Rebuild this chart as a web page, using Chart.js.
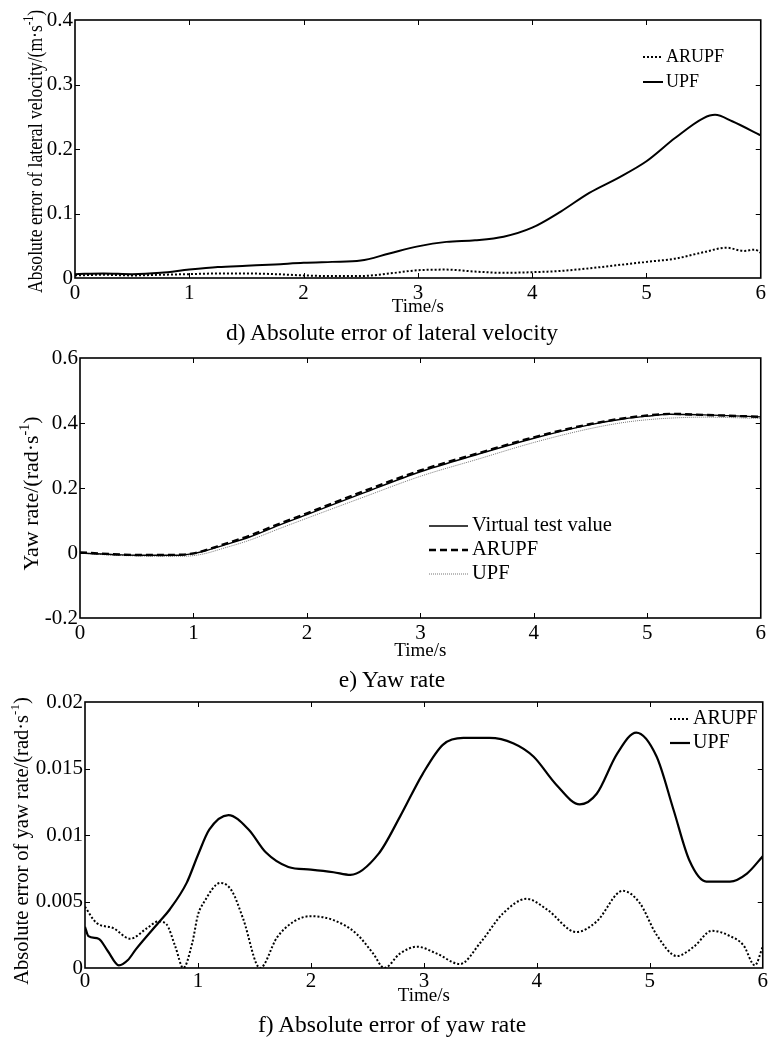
<!DOCTYPE html>
<html>
<head>
<meta charset="utf-8">
<script src="https://cdn.jsdelivr.net/npm/chart.js@4.4.0/dist/chart.umd.min.js"></script>
<style>
  body { margin: 0; background: #fff; overflow: hidden; }
  #page { position: relative; width: 769px; height: 1037px; }
  canvas { position: absolute; left: 0; }
  .cap { position: absolute; left: 15px; width: 754px; text-align: center; font-family: 'Liberation Serif', serif; font-size: 23.5px; line-height: 1; color: #000; }
</style>
</head>
<body>
<div id="page">
  <canvas id="latChart" width="769" height="320" style="top:0"></canvas>
  <div class="cap" style="top:321px">d) Absolute error of lateral velocity</div>
  <canvas id="yawChart" width="769" height="335" style="top:330px"></canvas>
  <div class="cap" style="top:668px">e) Yaw rate</div>
  <canvas id="errChart" width="769" height="340" style="top:670px"></canvas>
  <div class="cap" style="top:1013px">f) Absolute error of yaw rate</div>
</div>
<script>
'use strict';

// d) absolute error of lateral velocity (m/s)
const latUpfTime = [0, 0.25, 0.5, 0.75, 1, 1.25, 1.5, 1.75, 2, 2.25, 2.5, 2.75, 3, 3.25, 3.5, 3.75, 4, 4.25, 4.5, 4.75, 5, 5.25, 5.5, 5.6, 5.75, 6];
const latUpf = [0.006, 0.007, 0.006, 0.008, 0.013, 0.017, 0.019, 0.021, 0.0235, 0.025, 0.027, 0.038, 0.049, 0.056, 0.0585, 0.064, 0.078, 0.103, 0.132, 0.155, 0.181, 0.217, 0.248, 0.253, 0.243, 0.221];
const latArupfTime = [0, 0.25, 0.5, 0.75, 1, 1.25, 1.5, 1.75, 2, 2.25, 2.5, 2.75, 3, 3.25, 3.5, 3.75, 4, 4.25, 4.5, 4.75, 5, 5.25, 5.5, 5.7, 5.85, 5.95, 6];
const latArupf = [0.004, 0.005, 0.004, 0.005, 0.006, 0.007, 0.007, 0.006, 0.004, 0.003, 0.003, 0.007, 0.012, 0.013, 0.010, 0.008, 0.009, 0.011, 0.015, 0.020, 0.025, 0.030, 0.040, 0.047, 0.042, 0.044, 0.039];

// e) yaw rate (rad/s)
const yawTime = [0, 0.25, 0.5, 0.75, 0.9, 1, 1.1, 1.25, 1.5, 1.75, 2, 2.5, 3, 3.5, 4, 4.5, 4.8, 5, 5.2, 5.5, 6];
const yawVirtual = [0, -0.004, -0.007, -0.007, -0.006, -0.002, 0.006, 0.022, 0.05, 0.085, 0.118, 0.185, 0.25, 0.303, 0.353, 0.395, 0.413, 0.421, 0.427, 0.425, 0.419];
const yawArupf = [0.002, -0.003, -0.006, -0.006, -0.005, -0.001, 0.008, 0.025, 0.054, 0.089, 0.122, 0.19, 0.254, 0.306, 0.356, 0.397, 0.415, 0.423, 0.428, 0.425, 0.419];
const yawUpf = [0, -0.006, -0.009, -0.01, -0.01, -0.008, -0.002, 0.013, 0.04, 0.074, 0.107, 0.172, 0.236, 0.288, 0.34, 0.383, 0.402, 0.41, 0.415, 0.418, 0.414];

// f) absolute error of yaw rate (rad/s)
const errUpfTime = [0, 0.03, 0.12, 0.2, 0.3, 0.38, 0.45, 0.65, 0.75, 0.9, 1, 1.1, 1.27, 1.45, 1.6, 1.8, 2, 2.2, 2.35, 2.6, 2.79, 2.99, 3.17, 3.35, 3.58, 3.79, 3.97, 4.17, 4.38, 4.53, 4.71, 4.88, 5.06, 5.21, 5.35, 5.5, 5.71, 5.86, 6];
const errUpf = [0.0031, 0.0024, 0.0022, 0.0013, 0.0002, 0.0006, 0.0014, 0.0034, 0.0044, 0.0064, 0.0085, 0.0104, 0.0115, 0.0104, 0.0087, 0.0076, 0.0074, 0.0072, 0.007, 0.0086, 0.0114, 0.0146, 0.0168, 0.0173, 0.0173, 0.0169, 0.0159, 0.0138, 0.0123, 0.0131, 0.0161, 0.0177, 0.0159, 0.0119, 0.0081, 0.0065, 0.0065, 0.0071, 0.0084];
const errArupfTime = [0, 0.1, 0.25, 0.4, 0.55, 0.65, 0.72, 0.8, 0.87, 0.95, 1, 1.05, 1.2, 1.3, 1.4, 1.55, 1.7, 1.85, 2, 2.2, 2.4, 2.55, 2.65, 2.79, 2.94, 3.11, 3.32, 3.5, 3.7, 3.91, 4.09, 4.35, 4.53, 4.76, 4.91, 5.06, 5.24, 5.39, 5.55, 5.71, 5.83, 5.93, 6];
const errArupf = [0.0046, 0.0034, 0.003, 0.0022, 0.003, 0.0035, 0.0033, 0.0016, 0, 0.0019, 0.004, 0.0049, 0.0064, 0.0058, 0.0037, 0, 0.0023, 0.0035, 0.0039, 0.0036, 0.0026, 0.0011, 0, 0.0011, 0.0016, 0.0011, 0.0003, 0.0019, 0.0041, 0.0052, 0.0044, 0.0027, 0.0035, 0.0058, 0.0049, 0.0025, 0.0009, 0.0016, 0.0028, 0.0024, 0.0017, 0.0002, 0.0016];

const SERIF = "'Liberation Serif', 'Times New Roman', serif";
Chart.defaults.font.family = SERIF;
Chart.defaults.color = '#000';

function pts (t, v) {
    return t.map((x, i) => ({ x: x, y: v[i] }));
}

// box round the plot plus inward tick marks on all four sides
const frame = {
    id: 'frame',
    afterDatasetsDraw (chart) {
        const { ctx, chartArea: a, scales: { x, y } } = chart;
        ctx.save();
        ctx.strokeStyle = '#000';
        ctx.lineWidth = 1;
        ctx.beginPath();
        x.ticks.forEach(t => {
            if (t.value <= x.min || t.value >= x.max) return;
            const px = Math.round(x.getPixelForValue(t.value)) + 0.5;
            ctx.moveTo(px, a.bottom); ctx.lineTo(px, a.bottom - 5);
            ctx.moveTo(px, a.top); ctx.lineTo(px, a.top + 5);
        });
        y.ticks.forEach(t => {
            if (t.value <= y.min || t.value >= y.max) return;
            const py = Math.round(y.getPixelForValue(t.value)) + 0.5;
            ctx.moveTo(a.left, py); ctx.lineTo(a.left + 5, py);
            ctx.moveTo(a.right, py); ctx.lineTo(a.right - 5, py);
        });
        ctx.stroke();
        ctx.lineWidth = 1.6;
        ctx.strokeRect(a.left, a.top, a.right - a.left, a.bottom - a.top);
        ctx.restore();
    }
};

// legend drawn inside the plot, line sample taken from each dataset
const boxLegend = {
    id: 'boxLegend',
    afterDraw (chart, args, o) {
        const ctx = chart.ctx;
        ctx.save();
        ctx.font = o.size + 'px ' + SERIF;
        ctx.textBaseline = 'middle';
        ctx.fillStyle = '#000';
        chart.data.datasets.forEach((ds, i) => {
            const y = o.y + i * o.rowH;
            ctx.beginPath();
            ctx.setLineDash(ds.borderDash || []);
            ctx.lineWidth = ds.borderWidth;
            ctx.strokeStyle = ds.borderColor;
            ctx.moveTo(o.x, y);
            ctx.lineTo(o.x + o.len, y);
            ctx.stroke();
            ctx.setLineDash([]);
            ctx.fillText(ds.label, o.x + o.len + o.gap, y);
        });
        ctx.restore();
    }
};

// rotated y title with a superscript -1
const yTitle = {
    id: 'yTitle',
    afterDraw (chart, args, o) {
        const { ctx, chartArea: a } = chart;
        const big = o.size + 'px ' + SERIF;
        const small = Math.round(o.size * 0.62) + 'px ' + SERIF;
        ctx.save();
        ctx.fillStyle = '#000';
        ctx.font = big;
        const wMain = ctx.measureText(o.text).width;
        const wEnd = ctx.measureText(')').width;
        ctx.font = small;
        const wSup = ctx.measureText('-1').width;
        const total = wMain + wSup + wEnd;
        const sx = Math.min(1, o.maxWidth / total);
        ctx.translate(o.x, (a.top + a.bottom) / 2 + o.dy);
        ctx.rotate(-Math.PI / 2);
        ctx.scale(sx, 1);
        let p = -total / 2;
        ctx.font = big;
        ctx.fillText(o.text, p, 0);
        p += wMain;
        ctx.font = small;
        ctx.fillText('-1', p, -o.size * 0.42);
        p += wSup;
        ctx.font = big;
        ctx.fillText(')', p, 0);
        ctx.restore();
    }
};

function makeChart (id, datasets, p) {
    const cfg = {
        type: 'line',
        data: { datasets: datasets },
        options: {
            responsive: false,
            animation: false,
            events: [],
            layout: { padding: { top: p.top, right: p.right, left: 0, bottom: 0 } },
            elements: { point: { radius: 0 }, line: { cubicInterpolationMode: 'monotone', borderCapStyle: 'butt' } },
            scales: {
                x: {
                    type: 'linear',
                    min: 0,
                    max: 6,
                    afterFit: s => { s.height = p.xHeight; },
                    grid: { display: false, drawTicks: false },
                    border: { display: false },
                    ticks: { stepSize: 1, padding: p.xPad, font: { size: 21 }, maxRotation: 0 },
                    title: { display: true, text: 'Time/s', font: { size: 19 }, padding: { top: 0, bottom: p.titlePad } }
                },
                y: {
                    min: p.yMin,
                    max: p.yMax,
                    afterFit: s => { s.width = p.left; },
                    grid: { display: false, drawTicks: false },
                    border: { display: false },
                    ticks: { stepSize: p.yStep, padding: 2, font: { size: 21 }, callback: v => String(+v.toFixed(4)) }
                }
            },
            plugins: {
                legend: { display: false },
                tooltip: { enabled: false },
                boxLegend: p.legend,
                yTitle: p.title
            }
        },
        plugins: [frame, boxLegend, yTitle]
    };
    return new Chart(document.getElementById(id), cfg);
}

makeChart('latChart', [
    { label: 'ARUPF', data: pts(latArupfTime, latArupf), borderColor: '#000', borderWidth: 2, borderDash: [2, 2] },
    { label: 'UPF', data: pts(latUpfTime, latUpf), borderColor: '#000', borderWidth: 2 }
], {
    top: 20, right: 7, left: 75, xHeight: 42, xPad: 3, titlePad: 2,
    yMin: 0, yMax: 0.4, yStep: 0.1,
    legend: { x: 643, y: 57, rowH: 25, len: 20, gap: 3, size: 18 },
    title: { text: 'Absolute error of lateral velocity/(m\u00b7s', size: 22, x: 42, dy: 2.5, maxWidth: 283 }
});

makeChart('yawChart', [
    { label: 'Virtual test value', data: pts(yawTime, yawVirtual), borderColor: '#000', borderWidth: 1.4 },
    { label: 'ARUPF', data: pts(yawTime, yawArupf), borderColor: '#000', borderWidth: 2.4, borderDash: [7, 4] },
    { label: 'UPF', data: pts(yawTime, yawUpf), borderColor: '#777', borderWidth: 1, borderDash: [1, 1] }
], {
    top: 28, right: 6, left: 80, xHeight: 47, xPad: 3, titlePad: 3,
    yMin: -0.2, yMax: 0.6, yStep: 0.2,
    legend: { x: 429, y: 196, rowH: 24, len: 39, gap: 4, size: 20.5 },
    title: { text: 'Yaw rate/(rad\u00b7s', size: 22, x: 38, dy: 5.5, maxWidth: 400 }
});

makeChart('errChart', [
    { label: 'ARUPF', data: pts(errArupfTime, errArupf), borderColor: '#000', borderWidth: 2, borderDash: [2, 2] },
    { label: 'UPF', data: pts(errUpfTime, errUpf), borderColor: '#000', borderWidth: 2.2 }
], {
    top: 32, right: 6, left: 85, xHeight: 42, xPad: 1, titlePad: 3,
    yMin: 0, yMax: 0.02, yStep: 0.005,
    legend: { x: 670, y: 49, rowH: 24, len: 20, gap: 3, size: 20 },
    title: { text: 'Absolute error of yaw rate/(rad\u00b7s', size: 20.5, x: 28, dy: 6, maxWidth: 400 }
});
</script>
</body>
</html>
